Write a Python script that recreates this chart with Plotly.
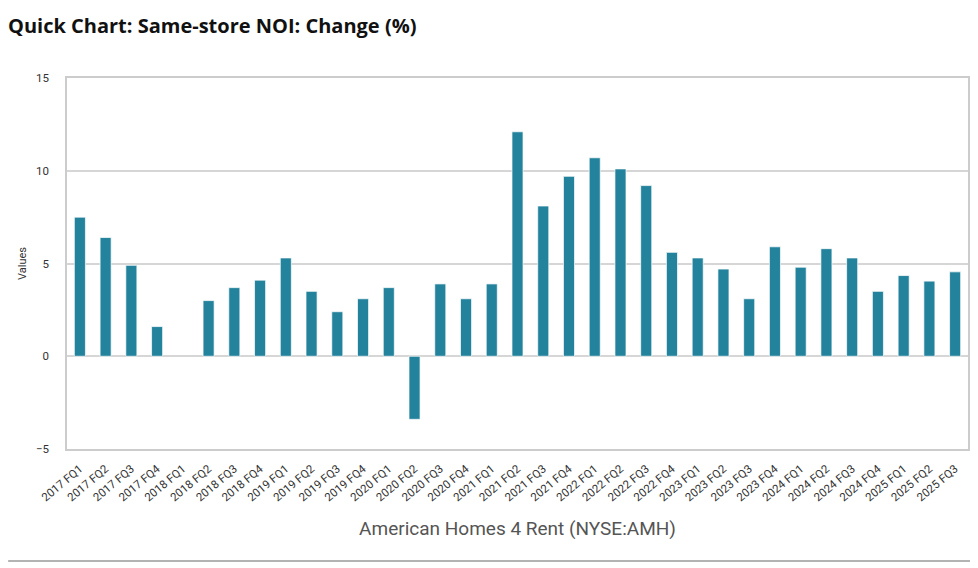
import plotly.graph_objects as go

quarters = [
    "2017 FQ1", "2017 FQ2", "2017 FQ3", "2017 FQ4",
    "2018 FQ1", "2018 FQ2", "2018 FQ3", "2018 FQ4",
    "2019 FQ1", "2019 FQ2", "2019 FQ3", "2019 FQ4",
    "2020 FQ1", "2020 FQ2", "2020 FQ3", "2020 FQ4",
    "2021 FQ1", "2021 FQ2", "2021 FQ3", "2021 FQ4",
    "2022 FQ1", "2022 FQ2", "2022 FQ3", "2022 FQ4",
    "2023 FQ1", "2023 FQ2", "2023 FQ3", "2023 FQ4",
    "2024 FQ1", "2024 FQ2", "2024 FQ3", "2024 FQ4",
    "2025 FQ1", "2025 FQ2", "2025 FQ3",
]

# Same-store NOI change in % (2018 FQ1 has no value)
noi_change = [
    7.5, 6.4, 4.9, 1.6,
    None, 3.0, 3.7, 4.1,
    5.3, 3.5, 2.4, 3.1,
    3.7, -3.4, 3.9, 3.1,
    3.9, 12.1, 8.1, 9.7,
    10.7, 10.1, 9.2, 5.6,
    5.3, 4.7, 3.1, 5.9,
    4.8, 5.8, 5.3, 3.5,
    4.35, 4.05, 4.55,
]

y_ticks = [-5, 0, 5, 10, 15]

fig = go.Figure()

fig.add_trace(go.Bar(
    x=quarters, y=noi_change,
    marker=dict(color="#24839c", line=dict(color="rgba(255,255,255,0.7)", width=1)),
    name="Same-store NOI: Change (%)",
))

# page body has an 8px margin, so the figure is 970x560 sitting at (8, 8)
W, H = 970, 560
ml, mr, mt, mb = 59, 8, 70, 119
pw, ph = W - ml - mr, H - mt - mb

# grey rule along the bottom of the page
rule_y = -(553 - (H - mb)) / ph
fig.add_shape(type="line", xref="paper", yref="paper",
              x0=-ml / pw, x1=(W - ml) / pw, y0=rule_y, y1=rule_y,
              line=dict(color="#9a9a9a", width=1.5))

fig.update_layout(
    width=W, height=H,
    title=dict(text="<b>Quick Chart: Same-store NOI: Change (%)</b>",
               x=0, xanchor="left", y=0.98, yanchor="top",
               font=dict(family="Open Sans", size=20, color="#111111")),
    margin=dict(l=ml, r=mr, t=mt, b=mb),
    plot_bgcolor="white", paper_bgcolor="white",
    showlegend=False,
    bargap=0.57,
    font=dict(family="Roboto", color="#333333"),
)

fig.update_xaxes(
    tickangle=-40, tickfont=dict(size=11.5, color="#333333"),
    showline=True, linecolor="#cccccc", linewidth=1.5, mirror=True,
    showgrid=False, ticks="outside", ticklen=7, tickcolor="white",
    title=dict(text="American Homes 4 Rent (NYSE:AMH)",
               font=dict(family="Roboto", size=19, color="#555555"), standoff=18),
)

fig.update_yaxes(
    range=[-5, 15], tickvals=y_ticks,
    tickfont=dict(size=11.5, color="#333333"),
    showline=True, linecolor="#cccccc", linewidth=1.5, mirror=True,
    showgrid=True, gridcolor="#d6d6d6", gridwidth=1.5,
    zeroline=True, zerolinecolor="#d6d6d6", zerolinewidth=1.5,
    ticks="", ticklabelstandoff=14,
    title=dict(text="Values", font=dict(size=11, color="#333333"), standoff=7),
)

fig.write_html("out.html")
